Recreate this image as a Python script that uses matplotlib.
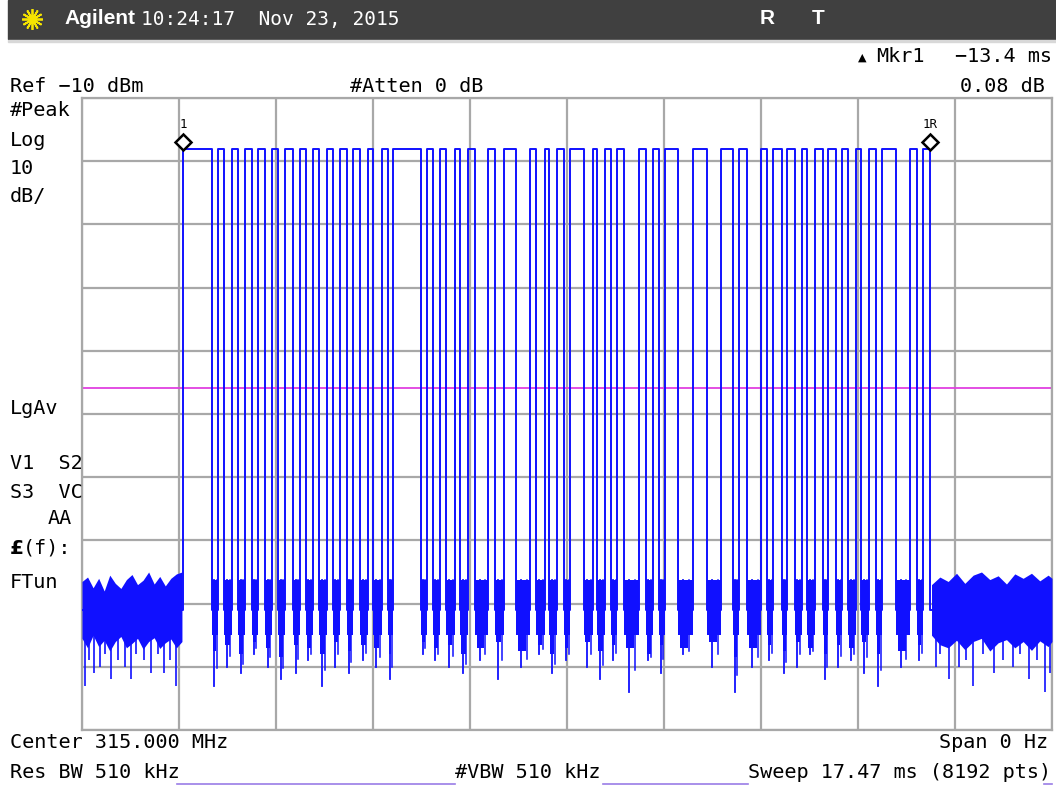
import numpy as np
import matplotlib
matplotlib.use("Agg")
import matplotlib.pyplot as plt

# --- instrument settings (from the screen) ---
sweep_ms = 17.47
ref_dbm = -10
db_per_div = 10
high_level = -18.1
display_line = -55.9

# burst: start / end of every "on" segment, ms
high_start = [1.82, 2.45, 2.70, 2.94, 3.17, 3.42, 3.66, 3.93, 4.16, 4.41, 4.65, 4.88, 5.15, 5.40,
              5.60, 6.21, 6.45, 6.72, 6.95, 7.31, 7.60, 8.07, 8.34, 8.55, 8.79, 9.20, 9.42, 9.64,
              10.03, 10.28, 10.50, 11.00, 11.51, 11.83, 12.23, 12.45, 12.70, 12.97, 13.20, 13.44,
              13.69, 13.94, 14.17, 14.41, 14.91, 15.15]
high_end = [2.34, 2.56, 2.81, 3.06, 3.30, 3.53, 3.80, 4.03, 4.27, 4.52, 4.77, 5.01, 5.24, 5.51,
            6.11, 6.32, 6.56, 6.81, 7.08, 7.44, 7.82, 8.18, 8.41, 8.68, 9.04, 9.28, 9.53, 9.76,
            10.16, 10.39, 10.73, 11.26, 11.72, 11.98, 12.34, 12.61, 12.84, 13.06, 13.35, 13.58,
            13.80, 14.03, 14.30, 14.66, 15.04, 15.27]

# noise floor while the carrier is off
noise_mid = -91.0
noise_top = -86.3
noise_bot = -95.0
# deepest dip in each off gap between bursts
gap_min = [-103, -100, -101, -98, -100, -102, -101, -99, -103, -100, -101, -99, -100, -102,
           -98, -99, -100, -101, -99, -102, -100, -98, -101, -99, -100, -102, -99, -104,
           -99, -101, -98, -100, -104, -100, -99, -101, -100, -98, -102, -100, -99, -101,
           -103, -100, -99]
# a lower inner level in each gap (ragged look of the floor)
gap_inner = [-97.5, -96.5, -98.0, -96.0, -97.0, -98.5, -96.5, -97.0, -98.0, -96.0, -97.5, -96.5,
             -97.0, -98.0, -96.0, -97.0, -96.5, -98.0, -97.0, -96.0, -97.5, -96.5, -98.0, -97.0,
             -96.0, -97.5, -96.5, -97.0, -98.0, -96.5, -97.0, -96.0, -98.5, -97.0, -96.5, -97.5,
             -96.0, -97.0, -98.0, -96.5, -97.0, -96.0, -98.0, -97.5, -96.5]

# ragged noise before / after the burst
head_t = [0.0, 0.1, 0.2, 0.3, 0.4, 0.5, 0.6, 0.7, 0.8, 0.9, 1.0, 1.1, 1.2, 1.3, 1.4, 1.5, 1.6, 1.7, 1.8]
head_top = [-86.5, -85.8, -87.5, -86.0, -88.0, -85.5, -86.8, -87.6, -86.2, -85.4, -87.0, -86.3,
            -85.0, -86.9, -85.7, -87.2, -86.0, -85.3, -85.0]
head_bot = [-95.5, -97.0, -95.0, -96.8, -95.8, -97.5, -96.0, -95.2, -97.0, -96.3, -95.5, -97.2,
            -96.0, -95.4, -97.1, -96.2, -95.6, -97.0, -96.0]
tail_t = [15.3, 15.45, 15.6, 15.75, 15.9, 16.05, 16.2, 16.35, 16.5, 16.65, 16.8, 16.95, 17.1,
          17.25, 17.4, 17.47]
tail_top = [-87.0, -85.8, -86.5, -85.2, -86.8, -85.5, -85.0, -86.2, -85.6, -86.9, -85.3, -86.0,
            -85.2, -86.4, -85.5, -86.0]
tail_bot = [-95.0, -96.5, -97.0, -95.8, -97.3, -96.0, -95.5, -97.5, -96.2, -95.7, -97.0, -96.0,
            -97.4, -95.9, -96.8, -96.0]
spike_t = [0.05, 0.12, 0.22, 0.33, 0.41, 0.52, 0.64, 0.77, 0.88, 0.97, 1.12, 1.24, 1.36, 1.47,
           1.58, 1.70, 15.38, 15.45, 15.62, 15.80, 15.93, 16.05, 16.22, 16.42, 16.58, 16.77,
           16.90, 17.05, 17.20, 17.35, 17.44]
spike_v = [-103, -99, -101, -100, -98, -102, -99, -100, -102, -98, -99, -101, -98, -101, -99,
           -103, -100, -98, -102, -100, -99, -103, -98, -101, -99, -100, -98, -102, -99, -104, -101]

# marker positions
mkr1_t = 1.82
mkr1r_t = 15.27

fig = plt.figure(figsize=(10.56, 7.87), dpi=100)
W, H = 1056, 787


def px(x, y):
    return x / W, 1 - y / H


mono = "DejaVu Sans Mono"
fs = 14.5

# header bar
fig.patches.append(plt.Rectangle(px(8, 39), (W - 8) / W, 39 / H, transform=fig.transFigure,
                                 color="#404040", zorder=0))
fig.patches.append(plt.Rectangle(px(8, 42), (W - 8) / W, 2 / H, transform=fig.transFigure,
                                 color="#d8d8d8", zorder=0))
sx, sy = px(32, 19)
fig.add_artist(matplotlib.lines.Line2D([sx], [sy], marker=(12, 2, 0), markersize=15,
                                       color="#f5e400", mew=1.3, transform=fig.transFigure))
fig.text(*px(64, 19), "Agilent", family="Liberation Sans", weight="bold", fontsize=15,
         color="white", va="center")
fig.text(*px(141, 19), "10:24:17  Nov 23, 2015", family=mono, fontsize=14, color="white", va="center")
fig.text(*px(767, 18), "R", family="Liberation Sans", weight="bold", fontsize=15, color="white",
         va="center", ha="center")
fig.text(*px(818, 18), "T", family="Liberation Sans", weight="bold", fontsize=15, color="white",
         va="center", ha="center")

# top annotations
fig.text(*px(862, 58), "\u25b2", family="DejaVu Sans", fontsize=8, color="black", va="center", ha="center")
fig.text(*px(876, 57), "Mkr1", family=mono, fontsize=fs, va="center")
fig.text(*px(1052, 57), "\u221213.4 ms", family=mono, fontsize=fs, va="center", ha="right")
fig.text(*px(10, 86), "Ref \u221210 dBm", family=mono, fontsize=fs, va="center")
fig.text(*px(350, 86), "#Atten 0 dB", family=mono, fontsize=fs, va="center")
fig.text(*px(1045, 86), "0.08 dB", family=mono, fontsize=fs, va="center", ha="right")

# left side labels
for label, x, y in [("#Peak", 10, 111), ("Log", 10, 141), ("10", 10, 169), ("dB/", 10, 197),
                    ("LgAv", 10, 408), ("V1  S2", 10, 464), ("S3  VC", 10, 492), ("AA", 48, 519),
                    ("FTun", 10, 582)]:
    fig.text(*px(x, y), label, family=mono, fontsize=fs, va="center")
fig.text(*px(10, 548), "\u00a3", family="DejaVu Sans", weight="bold", fontsize=fs, va="center")
fig.text(*px(23, 548), "(f):", family=mono, fontsize=fs, va="center")

# bottom annotations
fig.text(*px(10, 742), "Center 315.000 MHz", family=mono, fontsize=fs, va="center")
fig.text(*px(1048, 742), "Span 0 Hz", family=mono, fontsize=fs, va="center", ha="right")
fig.text(*px(10, 773), "Res BW 510 kHz", family=mono, fontsize=fs, va="center")
fig.text(*px(455, 773), "#VBW 510 kHz", family=mono, fontsize=fs, va="center")
fig.text(*px(748, 773), "Sweep 17.47 ms (8192 pts)", family=mono, fontsize=fs, va="center")
for x0, x1 in [(177, 455), (603, 748), (1044, 1052)]:
    fig.add_artist(matplotlib.lines.Line2D([x0 / W, x1 / W], [1 - 784 / H] * 2, color="#9a7de6",
                                           lw=1.2, transform=fig.transFigure))

# graticule
ax = fig.add_axes([82 / W, 1 - 730 / H, 970 / W, 632 / H])
ax.set_xlim(0, sweep_ms)
ax.set_ylim(ref_dbm - 10 * db_per_div, ref_dbm)
ax.set_xticks(np.linspace(0, sweep_ms, 11))
ax.set_yticks(np.arange(ref_dbm - 10 * db_per_div, ref_dbm + 1, db_per_div))
ax.grid(True, color="#a8a8a8", lw=1.6)
ax.tick_params(length=0, labelbottom=False, labelleft=False)
for s in ax.spines.values():
    s.set_color("#a8a8a8")
    s.set_linewidth(1.6)
ax.set_axisbelow(True)

# display line
ax.axhline(display_line, color="#e040e0", lw=1.3, zorder=2)

# trace: square burst
blue = "#1010ff"
tx, ty = [0.0], [noise_mid]
for s, e in zip(high_start, high_end):
    tx += [s, s, e, e]
    ty += [noise_mid, high_level, high_level, noise_mid]
tx.append(sweep_ms)
ty.append(noise_mid)
ax.plot(tx, ty, color=blue, lw=1.4, zorder=3)

# noise in every off gap
for e, s, lo, inner in zip(high_end[:-1], high_start[1:], gap_min, gap_inner):
    w = s - e
    ax.fill_between([e, s], [noise_top, noise_top], [noise_bot, noise_bot], color=blue,
                    lw=0, zorder=3)
    ax.fill_between([e + 0.15 * w, s - 0.3 * w], [noise_top, noise_top], [inner, inner], color=blue,
                    lw=0, zorder=3)
    ax.plot([e + 0.35 * w] * 2, [noise_top, lo], color=blue, lw=1.3, zorder=3)
    ax.plot([e + 0.75 * w] * 2, [noise_top, (lo + inner) / 2], color=blue, lw=1.1, zorder=3)
ax.fill_between(head_t, head_top, head_bot, color=blue, lw=0, zorder=3)
ax.fill_between(tail_t, tail_top, tail_bot, color=blue, lw=0, zorder=3)
ax.vlines(spike_t, noise_mid, spike_v, color=blue, lw=1.2, zorder=3)

# markers
for t, lab in [(mkr1_t, "1"), (mkr1r_t, "1R")]:
    ax.plot([t], [high_level + 1.1], marker="D", ms=8, mfc="white", mec="black", mew=1.8, zorder=5,
            clip_on=False)
    ax.text(t, high_level + 3.9, lab, family=mono, fontsize=9, ha="center", va="center")

fig.savefig("out.png", dpi=100)
